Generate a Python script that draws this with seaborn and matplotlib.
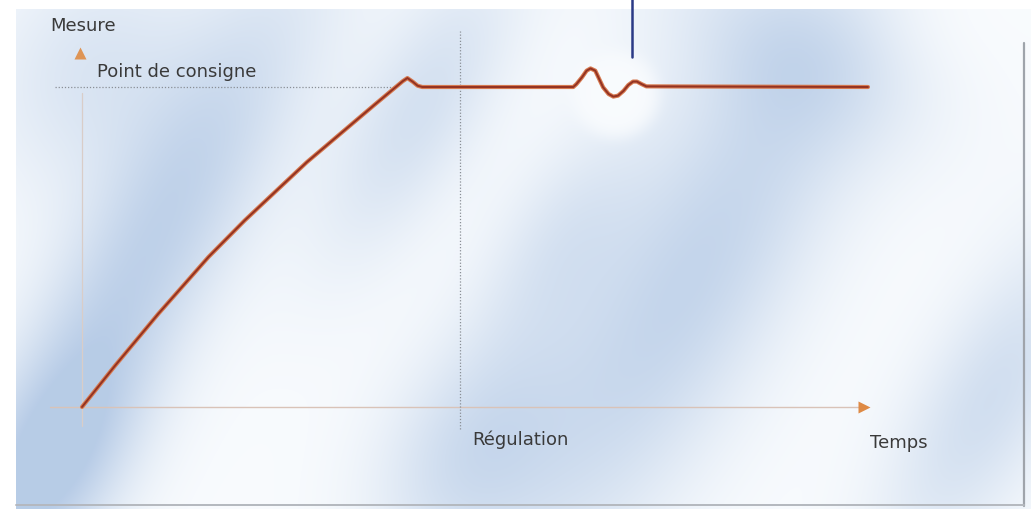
import numpy as np
import matplotlib
matplotlib.use("Agg")
import matplotlib.pyplot as plt
import seaborn as sns

# ---- data: time (arbitrary units) vs measure (% of setpoint) ----
temps = [0.00, 0.42, 0.97, 1.61, 2.07, 2.86, 3.71, 4.08, 4.14, 4.21, 4.27, 4.33,
         6.25, 6.29, 6.36, 6.42, 6.47, 6.53, 6.58, 6.63, 6.70, 6.76, 6.82,
         6.89, 6.95, 7.01, 7.06, 7.12, 7.18, 10.00]
mesure = [0.0, 12.9, 29.1, 46.9, 58.3, 76.5, 94.2, 101.8, 102.8, 101.6, 100.4, 100.0,
          100.0, 100.9, 103.0, 105.1, 105.8, 105.1, 102.5, 99.9, 97.8, 97.0, 97.3,
          98.8, 100.6, 101.7, 101.7, 100.9, 100.2, 100.0]

point_consigne = 100.0      # setpoint level
debut_regulation = 4.81     # time where regulation starts
fin_consigne = 3.98         # where the dotted setpoint guide stops
labels = {"y": "Mesure", "consigne": "Point de consigne",
          "regulation": "Régulation", "x": "Temps"}

# ---- pixel layout (figure is 1031 x 510) ----
W, H = 1031, 510
PX0, PY0 = 82, 408          # pixel of the origin
SX, SY = 78.6, 3.2          # pixels per unit

sns.set_style("white")
plt.rcParams["font.family"] = ["DejaVu Sans"]

fig = plt.figure(figsize=(W / 100, H / 100), dpi=100)

# ---- background: soft diagonal blue streaks ----
bg = fig.add_axes([0, 0, 1, 1], zorder=0)
yy, xx = np.mgrid[0:H, 0:W].astype(float)


def blob(cx, cy, sl, ss, amp, slant=-0.55):
    d = np.array([slant, 1.0])
    d /= np.linalg.norm(d)
    dx, dy = xx - cx, yy - cy
    a = dx * d[0] + dy * d[1]
    b = -dx * d[1] + dy * d[0]
    return amp * np.exp(-0.5 * ((a / sl) ** 2 + (b / ss) ** 2))


streaks = [(150, 250, 230, 55, 0.85), (50, 470, 90, 50, 0.75),
           (90, 70, 90, 70, 0.45), (420, 110, 120, 45, 0.55),
           (470, 450, 90, 60, 0.6), (690, 280, 230, 70, 0.8),
           (780, 45, 60, 110, 0.4), (990, 400, 130, 50, 0.6),
           (560, 240, 90, 45, 0.4)]
I = np.zeros((H, W))
for s in streaks:
    I += blob(*s)
I = np.clip(I, 0, 1)

# white glow around the disturbance
r = np.hypot(xx - 615, yy - 95)
I *= 1 - np.exp(-(r / 44) ** 6)
# top-right fade to white
I *= 1 - np.exp(-(((xx - 1030) / 110) ** 2 + ((yy - 0) / 70) ** 2))

white = np.array([0.975, 0.985, 0.995])
blue = np.array([0.72, 0.80, 0.905])
img = white[None, None, :] * (1 - I[..., None]) + blue[None, None, :] * I[..., None]
img[(xx < 16) | (yy < 10)] = 1.0
bg.imshow(img, extent=(0, W, H, 0), aspect="auto", interpolation="bilinear")
bg.plot([1024, 1024], [44, 507], color="#9fa4ab", lw=1.6)
bg.plot([16, 1024], [506, 506], color="#b4b8be", lw=1.4)
bg.set_xlim(0, W)
bg.set_ylim(H, 0)
bg.axis("off")

# ---- main chart ----
ax = fig.add_axes([0, 0, 1, 1], zorder=1)
ax.patch.set_alpha(0)
ax.set_xlim(-PX0 / SX, (W - PX0) / SX)
ax.set_ylim((PY0 - H) / SY, PY0 / SY)
ax.axis("off")

# axes (faint) with orange arrow heads
ax.plot([-0.41, 9.9], [0, 0], color="#d9c3b8", lw=1.0, zorder=2)
ax.plot([0, 0], [-6, 98], color="#d9cdc8", lw=0.9, zorder=2)
ax.plot([9.95], [0], marker=">", ms=9, color="#de8a45", mec="none", zorder=3)
ax.plot([-0.03], [110.5], marker="^", ms=9, color="#de9455", mec="none", zorder=3)

# setpoint and regulation guides
ax.plot([-0.34, fin_consigne], [point_consigne, point_consigne],
        color="#8a8f96", lw=0.9, ls=(0, (1, 1.5)), zorder=2)
ax.plot([debut_regulation, debut_regulation], [-7, 117.5],
        color="#8a8f96", lw=0.9, ls=(0, (1, 1.5)), zorder=2)

# measured curve: orange halo with dark red core
sns.lineplot(x=temps, y=mesure, ax=ax, sort=False, color="#d67a50",
             linewidth=3.0, zorder=4, solid_capstyle="round", solid_joinstyle="round")
sns.lineplot(x=temps, y=mesure, ax=ax, sort=False, color="#933222",
             linewidth=1.4, zorder=5, solid_capstyle="round", solid_joinstyle="round")

# pointer line from the top
ax.plot([(632 - PX0) / SX] * 2, [(PY0 - 0) / SY, (PY0 - 58) / SY],
        color="#2b3a86", lw=1.8, zorder=5)

txt = dict(color="#3a3a3a", fontsize=13, va="center", ha="left")
ax.text(-0.41, 119.4, labels["y"], **txt)
ax.text(0.19, 105.0, labels["consigne"], **txt)
ax.text(4.96, -10.0, labels["regulation"], **txt)
ax.text(10.03, -10.9, labels["x"], **txt)

fig.savefig("out.png", dpi=100)
